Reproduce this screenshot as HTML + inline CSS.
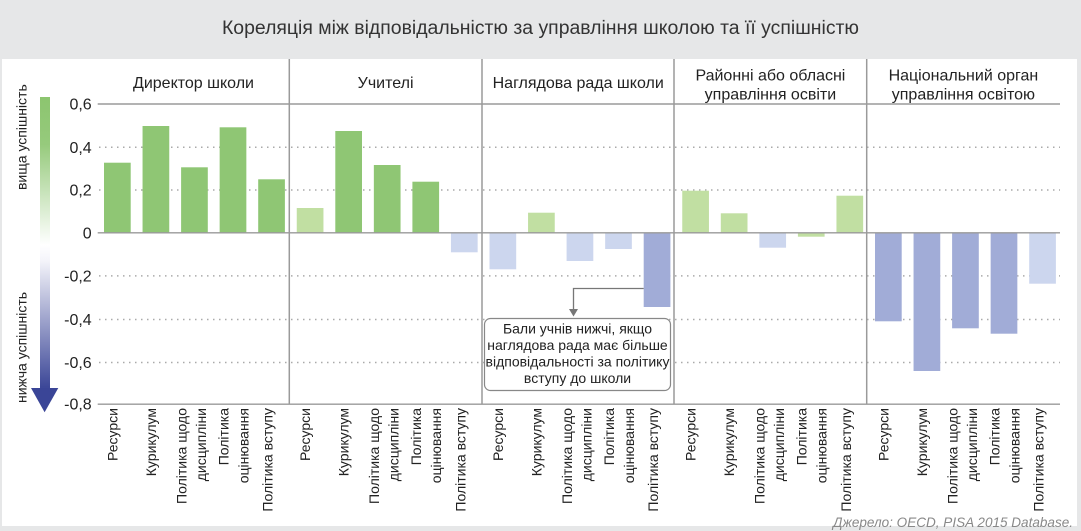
<!DOCTYPE html>
<html><head><meta charset="utf-8">
<style>
html,body{margin:0;padding:0;background:#e6e7e8;}
svg{display:block;font-family:"Liberation Sans","Noto Sans CJK SC",sans-serif;}
</style></head>
<body>
<svg width="1081" height="531" viewBox="0 0 1081 531" xmlns="http://www.w3.org/2000/svg">
<defs>
<linearGradient id="ag" gradientUnits="userSpaceOnUse" x1="0" y1="97" x2="0" y2="412">
<stop offset="0" stop-color="#8cc56f"/>
<stop offset="0.15" stop-color="#96ca7c"/>
<stop offset="0.47" stop-color="#ffffff"/>
<stop offset="0.52" stop-color="#f4f4fa"/>
<stop offset="0.92" stop-color="#3d4898"/>
<stop offset="1" stop-color="#3a4597"/>
</linearGradient>
</defs>
<rect x="0" y="0" width="1081" height="531" fill="#e6e7e8"/>
<text x="540.5" y="34" text-anchor="middle" font-size="19" fill="#333" textLength="637" lengthAdjust="spacingAndGlyphs">Кореляція між відповідальністю за управління школою та її успішністю</text>
<rect x="2" y="59" width="1075" height="467" fill="#fff"/>

<!-- headers -->
<g font-size="16" fill="#222" text-anchor="middle">
<text x="193.5" y="88">Директор школи</text>
<text x="385.6" y="88">Учителі</text>
<text x="578.2" y="88">Наглядова рада школи</text>
<text x="770.4" y="80.5">Районні або обласні</text>
<text x="770.4" y="99.5">управління освіти</text>
<text x="963.4" y="80.5">Національний орган</text>
<text x="963.4" y="99.5">управління освітою</text>
</g>

<!-- dotted gridlines -->
<g stroke="#aaa" stroke-width="1.5" stroke-dasharray="1.5 4.5">
<line x1="99" y1="147.3" x2="1060" y2="147.3"/>
<line x1="99" y1="190" x2="1060" y2="190"/>
<line x1="99" y1="275.9" x2="1060" y2="275.9"/>
<line x1="99" y1="319.5" x2="1060" y2="319.5"/>
<line x1="99" y1="362.5" x2="1060" y2="362.5"/>
</g>

<!-- vertical separators -->
<g stroke="#9a9a9a" stroke-width="1.5">
<line x1="289.3" y1="59" x2="289.3" y2="404"/>
<line x1="482" y1="59" x2="482" y2="404"/>
<line x1="674" y1="59" x2="674" y2="404"/>
<line x1="866.7" y1="59" x2="866.7" y2="404"/>
</g>

<!-- bars -->
<g>
<!-- group 1 -->
<rect x="104" y="162.7" width="26.7" height="70" fill="#8fc674"/>
<rect x="142.55" y="126" width="26.7" height="106.7" fill="#8fc674"/>
<rect x="181.1" y="167.3" width="26.7" height="65.4" fill="#8fc674"/>
<rect x="219.65" y="127.3" width="26.7" height="105.4" fill="#8fc674"/>
<rect x="258.2" y="179.3" width="26.7" height="53.4" fill="#8fc674"/>
<!-- group 2 -->
<rect x="296.75" y="208" width="26.7" height="24.7" fill="#c1dfa2"/>
<rect x="335.3" y="131" width="26.7" height="101.7" fill="#8fc674"/>
<rect x="373.85" y="165" width="26.7" height="67.7" fill="#8fc674"/>
<rect x="412.4" y="181.7" width="26.7" height="51" fill="#8fc674"/>
<rect x="450.95" y="233" width="26.7" height="19.3" fill="#ccd6ee"/>
<!-- group 3 -->
<rect x="489.5" y="233" width="26.7" height="36.3" fill="#ccd6ee"/>
<rect x="528.05" y="212.7" width="26.7" height="20" fill="#c1dfa2"/>
<rect x="566.6" y="233" width="26.7" height="28" fill="#ccd6ee"/>
<rect x="605.15" y="233" width="26.7" height="16" fill="#ccd6ee"/>
<rect x="643.7" y="233" width="26.7" height="74" fill="#a1acd7"/>
<!-- group 4 -->
<rect x="682.25" y="190.7" width="26.7" height="42" fill="#c1dfa2"/>
<rect x="720.8" y="213.3" width="26.7" height="19.4" fill="#c1dfa2"/>
<rect x="759.35" y="233" width="26.7" height="14.7" fill="#ccd6ee"/>
<rect x="797.9" y="233" width="26.7" height="3.7" fill="#c1dfa2"/>
<rect x="836.45" y="195.7" width="26.7" height="37" fill="#c1dfa2"/>
<!-- group 5 -->
<rect x="875" y="233" width="26.7" height="88.3" fill="#a1acd7"/>
<rect x="913.55" y="233" width="26.7" height="138" fill="#a1acd7"/>
<rect x="952.1" y="233" width="26.7" height="95.3" fill="#a1acd7"/>
<rect x="990.65" y="233" width="26.7" height="100.7" fill="#a1acd7"/>
<rect x="1029.2" y="233" width="26.7" height="50.7" fill="#ccd6ee"/>
</g>

<!-- solid axis lines -->
<g stroke="#9a9a9a" stroke-width="1.4">
<line x1="97.7" y1="104" x2="1060" y2="104"/>
<line x1="97.7" y1="232.8" x2="1060" y2="232.8"/>
<line x1="97.7" y1="404.2" x2="1060" y2="404.2"/>
</g>

<!-- y tick labels -->
<g font-size="16" fill="#222" text-anchor="end">
<text x="91.7" y="109.5">0,6</text>
<text x="91.7" y="152.8">0,4</text>
<text x="91.7" y="195.5">0,2</text>
<text x="91.7" y="238.3">0</text>
<text x="91.7" y="281.4">-0,2</text>
<text x="91.7" y="325">-0,4</text>
<text x="91.7" y="368">-0,6</text>
<text x="91.7" y="409.7">-0,8</text>
</g>

<!-- gradient arrow -->
<rect x="40" y="97" width="10" height="292" fill="url(#ag)"/>
<polygon points="31,388 58.3,388 44.6,412.3" fill="#3a4597"/>
<g font-size="14" fill="#222">
<text transform="translate(26.5,190) rotate(-90)">вища успішність</text>
<text transform="translate(26.5,403) rotate(-90)">нижча успішність</text>
</g>

<!-- annotation -->
<polyline points="643.7,288.5 573.5,288.5 573.5,310" fill="none" stroke="#777" stroke-width="1.3"/>
<polygon points="569,309 578,309 573.5,316.5" fill="#777"/>
<rect x="484.5" y="318.5" width="186" height="72" rx="6" ry="6" fill="#fff" stroke="#888" stroke-width="1.2"/>
<g font-size="14" fill="#222" text-anchor="middle">
<text x="577.5" y="333.5">Бали учнів нижчі, якщо</text>
<text x="577.5" y="350">наглядова рада має більше</text>
<text x="577.5" y="366.5">відповідальності за політику</text>
<text x="577.5" y="383">вступу до школи</text>
</g>

<!-- x labels -->
<g font-size="14" fill="#222" text-anchor="end">
<!-- group 1 -->
<text transform="translate(117.35,408) rotate(-90)">Ресурси</text>
<text transform="translate(155.9,408) rotate(-90)">Курикулум</text>
<text transform="translate(186.45,408) rotate(-90)">Політика щодо</text>
<text transform="translate(205.95,408) rotate(-90)">дисципліни</text>
<text transform="translate(228.4,408) rotate(-90)">Політика</text>
<text transform="translate(248.3,408) rotate(-90)">оцінювання</text>
<text transform="translate(272.55,408) rotate(-90)">Політика вступу</text>
<!-- group 2 -->
<text transform="translate(310.1,408) rotate(-90)">Ресурси</text>
<text transform="translate(348.65,408) rotate(-90)">Курикулум</text>
<text transform="translate(379.2,408) rotate(-90)">Політика щодо</text>
<text transform="translate(398.7,408) rotate(-90)">дисципліни</text>
<text transform="translate(421.15,408) rotate(-90)">Політика</text>
<text transform="translate(441.05,408) rotate(-90)">оцінювання</text>
<text transform="translate(465.3,408) rotate(-90)">Політика вступу</text>
<!-- group 3 -->
<text transform="translate(502.85,408) rotate(-90)">Ресурси</text>
<text transform="translate(541.4,408) rotate(-90)">Курикулум</text>
<text transform="translate(571.95,408) rotate(-90)">Політика щодо</text>
<text transform="translate(591.45,408) rotate(-90)">дисципліни</text>
<text transform="translate(613.9,408) rotate(-90)">Політика</text>
<text transform="translate(633.8,408) rotate(-90)">оцінювання</text>
<text transform="translate(658.05,408) rotate(-90)">Політика вступу</text>
<!-- group 4 -->
<text transform="translate(695.6,408) rotate(-90)">Ресурси</text>
<text transform="translate(734.15,408) rotate(-90)">Курикулум</text>
<text transform="translate(764.7,408) rotate(-90)">Політика щодо</text>
<text transform="translate(784.2,408) rotate(-90)">дисципліни</text>
<text transform="translate(806.65,408) rotate(-90)">Політика</text>
<text transform="translate(826.55,408) rotate(-90)">оцінювання</text>
<text transform="translate(850.8,408) rotate(-90)">Політика вступу</text>
<!-- group 5 -->
<text transform="translate(888.35,408) rotate(-90)">Ресурси</text>
<text transform="translate(926.9,408) rotate(-90)">Курикулум</text>
<text transform="translate(957.45,408) rotate(-90)">Політика щодо</text>
<text transform="translate(976.95,408) rotate(-90)">дисципліни</text>
<text transform="translate(999.4,408) rotate(-90)">Політика</text>
<text transform="translate(1019.3,408) rotate(-90)">оцінювання</text>
<text transform="translate(1043.55,408) rotate(-90)">Політика вступу</text>
</g>

<!-- source -->
<text x="1073" y="527" text-anchor="end" font-size="14" font-style="italic" fill="#888" textLength="240" lengthAdjust="spacingAndGlyphs">Джерело: OECD, PISA 2015 Database.</text>
</svg>
</body></html>
